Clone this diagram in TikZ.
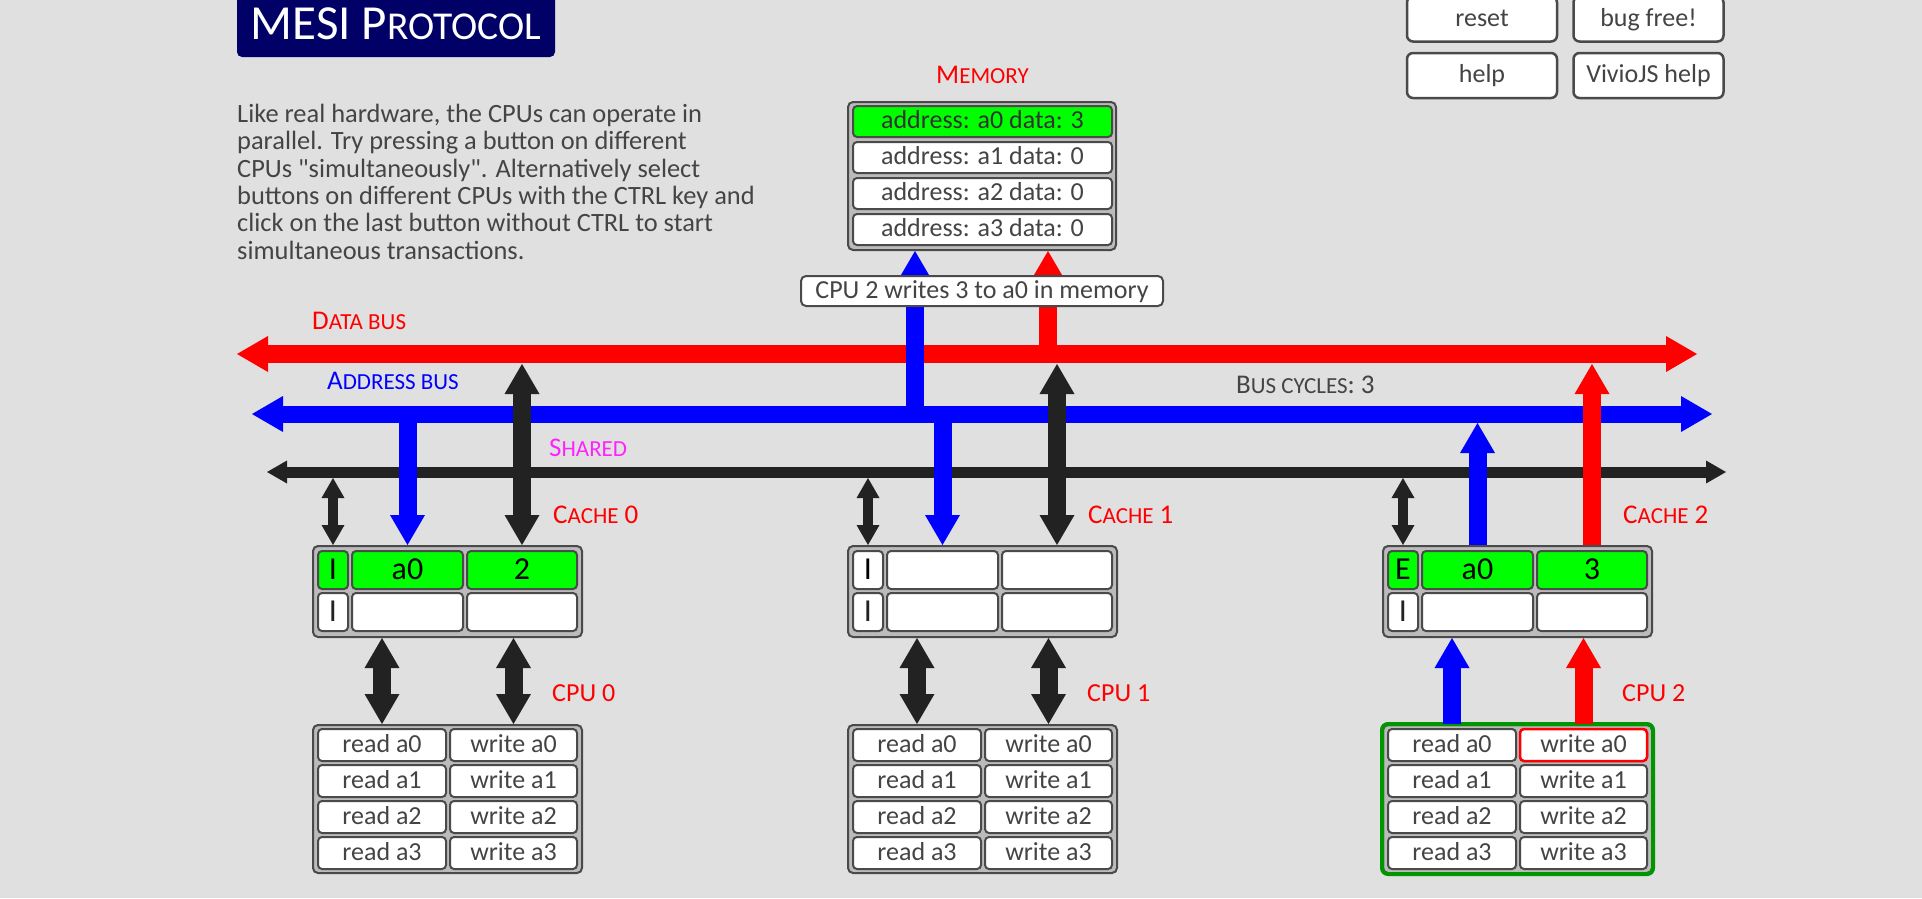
\documentclass[tikz,border=0pt]{standalone}
\usepackage{fontspec}
\setmainfont{Carlito}[Ligatures=TeXOff]
\usetikzlibrary{arrows.meta}
\definecolor{bg}{HTML}{E0E0E0}
\definecolor{bd}{HTML}{4A4A4A}
\definecolor{grp}{HTML}{BBBBBB}
\definecolor{txt}{HTML}{444444}
\definecolor{navy}{HTML}{000066}
\definecolor{gr}{HTML}{00FF00}
\definecolor{dgr}{HTML}{009600}
\definecolor{dk}{HTML}{222222}
\definecolor{mag}{HTML}{FF22FF}
\definecolor{rd}{HTML}{FF0000}
\definecolor{bl}{HTML}{0000FF}
\newcommand\lsc[1]{{\fontsize{23}{23}\selectfont #1}}
\newcommand\tsc[1]{{\fontsize{39.5}{39.5}\selectfont #1}}
\tikzset{
  BT/.tip={Triangle[width=35pt,length=30pt,line width=0pt]},
  ST/.tip={Triangle[width=23pt,length=20pt,line width=0pt]},
  BusT/.tip={Triangle[width=36pt,length=31pt,line width=0pt]},
  SBT/.tip={Triangle[width=23pt,length=20pt,line width=0pt]},
  cellbox/.style={draw=bd, line width=2pt, fill=white, rounded corners=4pt, inner sep=0pt,
    text=txt, font=\fontsize{26}{26}\selectfont, text height=18pt, text depth=4pt},
  cachecell/.style={cellbox, text=black, font=\fontsize{32}{32}\selectfont, text height=20pt, text depth=2pt, minimum height=38pt},
  grpbox/.style={draw=bd, line width=2pt, fill=grp, rounded corners=5pt, inner sep=0pt},
  topbtn/.style={cellbox, line width=2.5pt, rounded corners=6pt, minimum width=150pt, minimum height=45pt},
  lab/.style={inner sep=0pt, anchor=west, text height=17.4pt, text depth=0pt, font=\fontsize{27}{27}\selectfont},
  cpulab/.style={inner sep=0pt, anchor=west, text=rd, text height=16.8pt, text depth=0pt, font=\fontsize{26}{26}\selectfont},
  bigarr/.style={line width=18pt},
  smallarr/.style={line width=10pt, ST-ST, dk},
}
\begin{document}
\begin{tikzpicture}[x=1pt,y=-1pt]
\fill[bg] (0,0) rectangle (1922,898);
\useasboundingbox (0,0) rectangle (1922,898);

% title
\node[fill=navy, rounded corners=5pt, minimum width=318pt, minimum height=67pt, inner sep=0pt,
  text=white, font=\fontsize{49}{49}\selectfont, text height=31.5pt, text depth=0pt] (title) at (396,23.5) {MESI P\tsc{ROTOCOL}};

% description
\node[anchor=north west, align=left, inner sep=0pt, text=txt, font=\fontsize{26.4}{27.3}\selectfont] (desc) at (237,104)
{Like real hardware, the CPUs can operate in\\
parallel. Try pressing a button on different\\
CPUs "simultaneously". Alternatively select\\
buttons on different CPUs with the CTRL key and\\
click on the last button without CTRL to start\\
simultaneous transactions.};

% top buttons
\node[topbtn] (reset) at (1482,19) {reset};
\node[topbtn] (bugfree) at (1648.5,19) {bug free!};
\node[topbtn] (help) at (1482,75.5) {help};
\node[topbtn] (vhelp) at (1648.5,75.5) {VivioJS help};

% labels
\node[lab, text=rd] (memlab) at (936,74.5) {M\lsc{EMORY}};
\node[lab, text=rd] (dblab) at (312,321) {D\lsc{ATA BUS}};
\node[lab, text=bl] (ablab) at (327,381) {A\lsc{DDRESS BUS}};
\node[lab, text=mag] (shlab) at (549,448) {S\lsc{HARED}};
\node[lab, text=txt] (cyclab) at (1236,385) {B\lsc{US CYCLES}: 3};

% memory
\node[grpbox, minimum width=268pt, minimum height=148pt] (mem) at (982,176) {};
\node[cellbox, fill=gr, text=black!80, minimum width=259pt, minimum height=31pt] (m0) at (982.5,121.5) {address: a0 data: 3};
\node[cellbox, minimum width=259pt, minimum height=31pt] (m1) at (982.5,157.5) {address: a1 data: 0};
\node[cellbox, minimum width=259pt, minimum height=31pt] (m2) at (982.5,193.5) {address: a2 data: 0};
\node[cellbox, minimum width=259pt, minimum height=31pt] (m3) at (982.5,229.5) {address: a3 data: 0};

% caches and cpus
\foreach \k/\st/\ad/\da/\fl in {0/I/a0/2/gr, 1/I//{}/white, 2/E/a0/3/gr}{
  \pgfmathsetmacro\L{313+535*\k}
  \node[grpbox, minimum width=269pt, minimum height=91pt] (c\k) at (\L+134.5,591.5) {};
  \node[cachecell, fill=\fl, minimum width=30pt] (c\k s1) at (\L+20,570) {\st};
  \node[cachecell, fill=\fl, minimum width=111pt] (c\k a1) at (\L+94.5,570) {\ad};
  \node[cachecell, fill=\fl, minimum width=110pt] (c\k d1) at (\L+209,570) {\da};
  \node[cachecell, text=dk, minimum width=30pt] (c\k s2) at (\L+20,612) {I};
  \node[cachecell, minimum width=111pt] (c\k a2) at (\L+94.5,612) {};
  \node[cachecell, minimum width=110pt] (c\k d2) at (\L+209,612) {};
  \node[lab, text=rd] (c\k lab) at (\L+240,515) {C\lsc{ACHE} \k};
  \node[grpbox, minimum width=269pt, minimum height=148pt] (p\k) at (\L+134.5,799) {};
  \foreach \i in {0,1,2,3}{
    \node[cellbox, minimum width=128pt, minimum height=32pt] (p\k r\i) at (\L+69,745+36*\i) {read a\i};
    \node[cellbox, minimum width=127pt, minimum height=32pt] (p\k w\i) at (\L+200.5,745+36*\i) {write a\i};
  }
  \node[cpulab] (p\k lab) at (\L+239,693) {CPU \k};
  \coordinate (sh\k) at (\L+20,478);
  \coordinate (ab\k) at (\L+94.5,414);
  \coordinate (abt\k) at (\L+94.5,423);
  \coordinate (db\k) at (\L+209,364);
}
% CPU 2 highlight
\draw[dgr, line width=4pt, rounded corners=6pt] (p2.north west) rectangle (p2.south east);
\node[cellbox, draw=rd, line width=2.5pt, minimum width=127pt, minimum height=32pt] at (p2w0) {write a0};

% buses
\coordinate (dbL) at (237,354); \coordinate (dbR) at (1697,354);
\coordinate (abL) at (252,414); \coordinate (abR) at (1712,414);
\coordinate (shL) at (267,472); \coordinate (shR) at (1726,472);
\draw[rd, line width=18pt, BusT-BusT] (dbL) -- (dbR);
\draw[bl, line width=17pt, BusT-BusT] (abL) -- (abR);
\draw[dk, line width=11pt, SBT-SBT] (shL) -- (shR);

% memory arrows
\coordinate (mab) at (915,414);
\coordinate (mdb) at (1048,354);
\draw[bl, bigarr, -BT] (mab) -- (mem.south -| mab);
\draw[rd, bigarr, -BT] (mdb) -- (mem.south -| mdb);

% cache 0 and 1 arrows
\foreach \k in {0,1}{
  \draw[smallarr] (sh\k) -- (c\k.north -| sh\k);
  \draw[bl, bigarr, -BT] (ab\k) -- (c\k.north -| ab\k);
  \draw[dk, bigarr, BT-BT] (db\k) -- (c\k.north -| db\k);
  \draw[dk, bigarr, BT-BT] (c\k.south -| p\k r0) -- (p\k.north -| p\k r0);
  \draw[dk, bigarr, BT-BT] (c\k.south -| p\k w0) -- (p\k.north -| p\k w0);
}
% cache 2 arrows
\draw[smallarr] (sh2) -- (c2.north -| sh2);
\draw[bl, bigarr, -BT] (c2.north -| abt2) -- (abt2);
\draw[rd, bigarr, -BT] (c2.north -| db2) -- (db2);
\draw[bl, bigarr, -BT] (p2.north -| p2r0) -- (c2.south -| p2r0);
\draw[rd, bigarr, -BT] (p2.north -| p2w0) -- (c2.south -| p2w0);

% transaction label
\node[cellbox, rounded corners=5pt, minimum width=362pt, minimum height=30pt] (msg) at (982,291) {CPU 2 writes 3 to a0 in memory};
\end{tikzpicture}
\end{document}
